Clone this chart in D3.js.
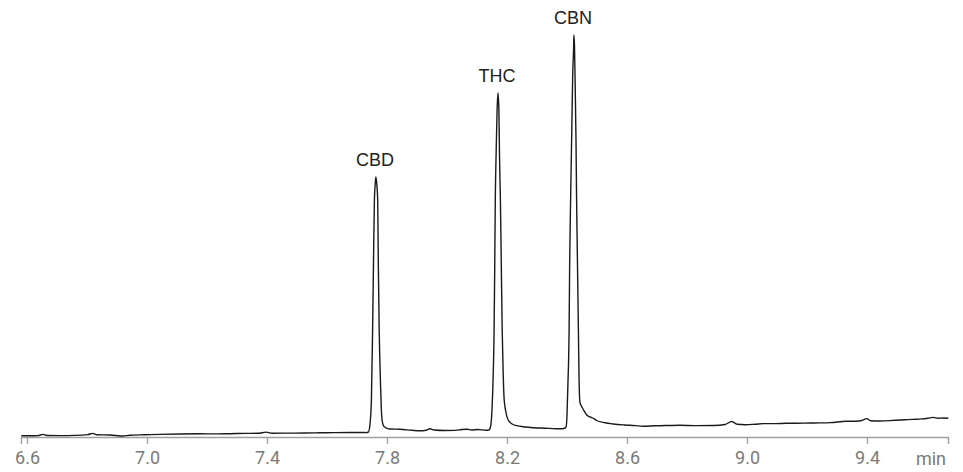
<!DOCTYPE html>
<html>
<head>
	<meta charset="utf-8">
	<title>Chromatogram</title>
	<script src="https://d3js.org/d3.v7.min.js"></script>
	<style>
		body { margin: 0; background: #fff; }
		svg { display: block; }
	</style>
</head>
<body>
	<div id="chart"></div>
	<script>
		// retention time (min) and detector signal
		const times = [
			6.581, 6.610, 6.637, 6.653, 6.667, 6.710, 6.760, 6.803, 6.819, 6.833,
			6.877, 6.920, 6.943, 6.993, 7.043, 7.110, 7.177, 7.227, 7.277, 7.327,
			7.370, 7.397, 7.417, 7.477, 7.527, 7.577, 7.627, 7.677, 7.717, 7.730,
			7.738, 7.743, 7.748, 7.752, 7.755, 7.758, 7.761, 7.763, 7.766, 7.769,
			7.771, 7.774, 7.778, 7.781, 7.784, 7.788, 7.793, 7.800, 7.810, 7.843,
			7.883, 7.910, 7.930, 7.943, 7.957, 7.993, 8.027, 8.050, 8.067, 8.083,
			8.103, 8.130, 8.140, 8.145, 8.149, 8.153, 8.157, 8.159, 8.161, 8.164,
			8.167, 8.170, 8.173, 8.175, 8.178, 8.181, 8.184, 8.187, 8.190, 8.195,
			8.204, 8.217, 8.232, 8.260, 8.287, 8.327, 8.363, 8.377, 8.390, 8.397,
			8.400, 8.403, 8.407, 8.409, 8.412, 8.416, 8.419, 8.422, 8.423, 8.425,
			8.427, 8.430, 8.432, 8.435, 8.438, 8.440, 8.443, 8.448, 8.454, 8.466,
			8.477, 8.488, 8.499, 8.527, 8.554, 8.593, 8.627, 8.654, 8.693, 8.737,
			8.777, 8.827, 8.888, 8.927, 8.949, 8.967, 8.993, 9.027, 9.054, 9.093,
			9.130, 9.166, 9.210, 9.243, 9.277, 9.310, 9.332, 9.363, 9.383, 9.399,
			9.413, 9.443, 9.493, 9.527, 9.554, 9.583, 9.603, 9.621, 9.637, 9.653,
			9.671
		]
		const signal = [
			1.3, 1.2, 1.4, 2.6, 1.5, 1.4, 1.6, 2.4, 3.6, 2.3,
			2.0, 1.0, 1.8, 2.2, 2.6, 3.0, 3.2, 3.1, 3.3, 3.6,
			3.7, 4.9, 3.8, 3.9, 4.0, 4.2, 4.4, 4.5, 4.5, 4.4,
			5, 12, 37, 107, 175, 237, 254, 260, 253, 237,
			175, 107, 57, 29, 16, 11.5, 9.7, 8.7, 8.0, 7.7,
			6.7, 6.2, 6.8, 8.2, 7.0, 6.5, 6.6, 7.5, 7.8, 7.0,
			7.5, 6.8, 7, 10, 22, 52, 107, 167, 237, 287,
			327, 344, 327, 282, 237, 172, 107, 67, 40, 27,
			17, 13, 11.3, 10, 9.3, 8.8, 8.3, 8.2, 8.5, 10,
			22, 52, 107, 177, 237, 307, 362, 389, 402, 391,
			357, 297, 237, 172, 107, 62, 35, 31, 27.7, 22,
			20, 18.7, 16.5, 14.2, 13, 12, 11.4, 10.7, 11.2, 11.5,
			11.7, 11.4, 11.5, 12.5, 15.5, 12.7, 12.3, 12.8, 13.4, 13.4,
			13.7, 13.8, 14, 14.1, 14.4, 15.2, 15.8, 15.7, 16.5, 18.4,
			16.2, 16, 16.7, 17.2, 17.6, 18.1, 18.8, 19.6, 18.7, 19,
			18.8
		]

		const peakNames = ['CBD', 'THC', 'CBN']
		const peakTimes = [7.763, 8.170, 8.423]

		const tickValues = [6.6, 7.0, 7.4, 7.8, 8.2, 8.6, 9.0, 9.4]
		const timeDomain = [6.58, 9.67]
		const signalDomain = [0, 400]

		const width = 963
		const height = 472
		const margin = {top: 37, right: 15, bottom: 35, left: 21}

		const svg = d3.select('#chart')
			.append('svg')
			.attr('width', width)
			.attr('height', height)

		const x = d3.scaleLinear()
			.domain(timeDomain)
			.range([margin.left, width - margin.right])

		const y = d3.scaleLinear()
			.domain(signalDomain)
			.range([height - margin.bottom, margin.top])

		// axis
		const axis = svg.append('g')
			.attr('transform', 'translate(0,' + (height - margin.bottom) + ')')
			.call(d3.axisBottom(x)
				.tickValues(tickValues)
				.tickFormat(d3.format('.1f'))
				.tickSizeOuter(0)
				.tickSize(7)
				.tickPadding(7))

		axis.select('.domain')
			.attr('stroke', '#a0a0a0')
			.attr('stroke-width', 1.5)
		axis.selectAll('.tick line')
			.attr('stroke', '#a0a0a0')
			.attr('stroke-width', 1.3)
		axis.selectAll('.tick text')
			.attr('fill', '#7a7a7a')
			.attr('font-family', 'Roboto, sans-serif')
			.attr('font-size', 18)

		svg.append('text')
			.attr('x', width - 17)
			.attr('y', height - 7)
			.attr('text-anchor', 'end')
			.attr('fill', '#7a7a7a')
			.attr('font-family', 'Roboto, sans-serif')
			.attr('font-size', 18)
			.text('min')

		// trace
		const points = times.map((t, i) => [t, signal[i]])

		const line = d3.line()
			.x(d => x(d[0]))
			.y(d => y(d[1]))
			.curve(d3.curveMonotoneX)

		svg.append('path')
			.datum(points)
			.attr('d', line)
			.attr('fill', 'none')
			.attr('stroke', '#1a1a1a')
			.attr('stroke-width', 1.4)
			.attr('stroke-linejoin', 'round')

		// peak labels
		const apex = peakTimes.map(t => {
			const i = d3.minIndex(times, v => Math.abs(v - t))
			return signal[i]
		})

		svg.selectAll('.peak-label')
			.data(peakNames)
			.enter()
			.append('text')
			.attr('class', 'peak-label')
			.attr('x', (d, i) => x(peakTimes[i]) - 1)
			.attr('y', (d, i) => y(apex[i]) - 11)
			.attr('text-anchor', 'middle')
			.attr('fill', '#222')
			.attr('font-family', '"Liberation Sans", Arial, sans-serif')
			.attr('font-size', 18)
			.text(d => d)
	</script>
</body>
</html>
